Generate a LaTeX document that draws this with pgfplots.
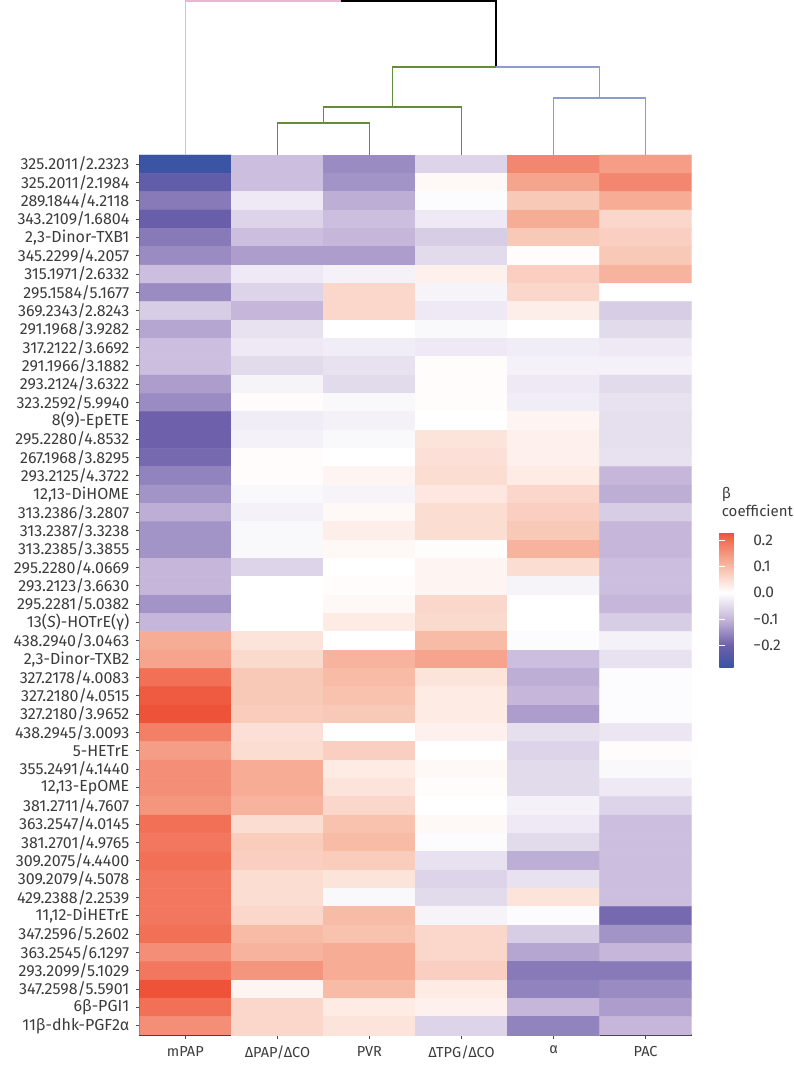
\documentclass[border=0pt]{standalone}
\usepackage{fontspec}
\setmainfont{Fira Sans}
\usepackage{pgfplots}
\pgfplotsset{compat=1.18}

\definecolor{dgreen}{RGB}{100,140,60}
\definecolor{dblue}{RGB}{140,157,203}
\definecolor{dpink}{RGB}{236,182,210}
\definecolor{labcol}{RGB}{60,60,60}

% beta coefficients: columns mPAP, dPAP/dCO, PVR, dTPG/dCO, alpha, PAC ; y = row (0 = top)
\pgfplotstableread[row sep=\\]{
x y z\\
0 0 -0.28\\ 1 0 -0.09\\ 2 0 -0.15\\ 3 0 -0.06\\ 4 0 0.17\\ 5 0 0.14\\
0 1 -0.22\\ 1 1 -0.09\\ 2 1 -0.14\\ 3 1 0.01\\ 4 1 0.13\\ 5 1 0.17\\
0 2 -0.17\\ 1 2 -0.03\\ 2 2 -0.11\\ 3 2 -0.005\\ 4 2 0.08\\ 5 2 0.12\\
0 3 -0.21\\ 1 3 -0.06\\ 2 3 -0.09\\ 3 3 -0.03\\ 4 3 0.12\\ 5 3 0.06\\
0 4 -0.17\\ 1 4 -0.09\\ 2 4 -0.10\\ 3 4 -0.07\\ 4 4 0.08\\ 5 4 0.07\\
0 5 -0.15\\ 1 5 -0.13\\ 2 5 -0.13\\ 3 5 -0.05\\ 4 5 0.005\\ 5 5 0.08\\
0 6 -0.09\\ 1 6 -0.03\\ 2 6 -0.02\\ 3 6 0.02\\ 4 6 0.07\\ 5 6 0.11\\
0 7 -0.15\\ 1 7 -0.06\\ 2 7 0.06\\ 3 7 -0.015\\ 4 7 0.06\\ 5 7 0.0\\
0 8 -0.07\\ 1 8 -0.10\\ 2 8 0.06\\ 3 8 -0.03\\ 4 8 0.025\\ 5 8 -0.07\\
0 9 -0.12\\ 1 9 -0.04\\ 2 9 0.0\\ 3 9 -0.01\\ 4 9 0.0\\ 5 9 -0.05\\
0 10 -0.09\\ 1 10 -0.03\\ 2 10 -0.025\\ 3 10 -0.03\\ 4 10 -0.025\\ 5 10 -0.03\\
0 11 -0.09\\ 1 11 -0.05\\ 2 11 -0.04\\ 3 11 0.003\\ 4 11 -0.02\\ 5 11 -0.02\\
0 12 -0.13\\ 1 12 -0.015\\ 2 12 -0.05\\ 3 12 0.005\\ 4 12 -0.03\\ 5 12 -0.05\\
0 13 -0.15\\ 1 13 0.005\\ 2 13 -0.01\\ 3 13 0.003\\ 4 13 -0.025\\ 5 13 -0.04\\
0 14 -0.20\\ 1 14 -0.025\\ 2 14 -0.02\\ 3 14 0.0\\ 4 14 0.015\\ 5 14 -0.045\\
0 15 -0.20\\ 1 15 -0.02\\ 2 15 -0.01\\ 3 15 0.04\\ 4 15 0.02\\ 5 15 -0.045\\
0 16 -0.19\\ 1 16 0.005\\ 2 16 0.0\\ 3 16 0.045\\ 4 16 0.02\\ 5 16 -0.04\\
0 17 -0.16\\ 1 17 0.005\\ 2 17 0.015\\ 3 17 0.05\\ 4 17 0.03\\ 5 17 -0.10\\
0 18 -0.14\\ 1 18 -0.01\\ 2 18 -0.015\\ 3 18 0.035\\ 4 18 0.06\\ 5 18 -0.11\\
0 19 -0.11\\ 1 19 -0.02\\ 2 19 0.01\\ 3 19 0.05\\ 4 19 0.07\\ 5 19 -0.07\\
0 20 -0.14\\ 1 20 -0.01\\ 2 20 0.025\\ 3 20 0.05\\ 4 20 0.08\\ 5 20 -0.10\\
0 21 -0.14\\ 1 21 -0.01\\ 2 21 0.01\\ 3 21 0.003\\ 4 21 0.11\\ 5 21 -0.10\\
0 22 -0.10\\ 1 22 -0.06\\ 2 22 0.0\\ 3 22 0.015\\ 4 22 0.05\\ 5 22 -0.09\\
0 23 -0.10\\ 1 23 0.0\\ 2 23 0.005\\ 3 23 0.015\\ 4 23 -0.015\\ 5 23 -0.09\\
0 24 -0.14\\ 1 24 0.0\\ 2 24 0.01\\ 3 24 0.06\\ 4 24 0.0\\ 5 24 -0.10\\
0 25 -0.10\\ 1 25 0.0\\ 2 25 0.03\\ 3 25 0.055\\ 4 25 0.0\\ 5 25 -0.07\\
0 26 0.12\\ 1 26 0.04\\ 2 26 0.0\\ 3 26 0.10\\ 4 26 -0.005\\ 5 26 -0.02\\
0 27 0.13\\ 1 27 0.055\\ 2 27 0.11\\ 3 27 0.13\\ 4 27 -0.09\\ 5 27 -0.04\\
0 28 0.20\\ 1 28 0.08\\ 2 28 0.10\\ 3 28 0.04\\ 4 28 -0.11\\ 5 28 -0.005\\
0 29 0.22\\ 1 29 0.08\\ 2 29 0.09\\ 3 29 0.03\\ 4 29 -0.10\\ 5 29 -0.005\\
0 30 0.23\\ 1 30 0.075\\ 2 30 0.08\\ 3 30 0.03\\ 4 30 -0.13\\ 5 30 -0.005\\
0 31 0.18\\ 1 31 0.045\\ 2 31 0.0\\ 3 31 0.02\\ 4 31 -0.045\\ 5 31 -0.035\\
0 32 0.14\\ 1 32 0.05\\ 2 32 0.07\\ 3 32 0.0\\ 4 32 -0.06\\ 5 32 0.005\\
0 33 0.16\\ 1 33 0.12\\ 2 33 0.03\\ 3 33 0.01\\ 4 33 -0.05\\ 5 33 -0.01\\
0 34 0.16\\ 1 34 0.12\\ 2 34 0.04\\ 3 34 0.005\\ 4 34 -0.05\\ 5 34 -0.03\\
0 35 0.15\\ 1 35 0.11\\ 2 35 0.06\\ 3 35 0.0\\ 4 35 -0.02\\ 5 35 -0.06\\
0 36 0.20\\ 1 36 0.05\\ 2 36 0.09\\ 3 36 0.01\\ 4 36 -0.03\\ 5 36 -0.09\\
0 37 0.19\\ 1 37 0.075\\ 2 37 0.10\\ 3 37 -0.005\\ 4 37 -0.05\\ 5 37 -0.09\\
0 38 0.20\\ 1 38 0.07\\ 2 38 0.075\\ 3 38 -0.04\\ 4 38 -0.11\\ 5 38 -0.09\\
0 39 0.19\\ 1 39 0.05\\ 2 39 0.04\\ 3 39 -0.06\\ 4 39 -0.04\\ 5 39 -0.09\\
0 40 0.19\\ 1 40 0.05\\ 2 40 -0.01\\ 3 40 -0.05\\ 4 40 0.04\\ 5 40 -0.09\\
0 41 0.19\\ 1 41 0.06\\ 2 41 0.10\\ 3 41 -0.015\\ 4 41 -0.005\\ 5 41 -0.19\\
0 42 0.20\\ 1 42 0.10\\ 2 42 0.09\\ 3 42 0.06\\ 4 42 -0.07\\ 5 42 -0.14\\
0 43 0.16\\ 1 43 0.11\\ 2 43 0.12\\ 3 43 0.06\\ 4 43 -0.12\\ 5 43 -0.10\\
0 44 0.19\\ 1 44 0.15\\ 2 44 0.12\\ 3 44 0.07\\ 4 44 -0.17\\ 5 44 -0.17\\
0 45 0.23\\ 1 45 0.015\\ 2 45 0.10\\ 3 45 0.03\\ 4 45 -0.16\\ 5 45 -0.15\\
0 46 0.20\\ 1 46 0.06\\ 2 46 0.03\\ 3 46 0.02\\ 4 46 -0.10\\ 5 46 -0.13\\
0 47 0.16\\ 1 47 0.06\\ 2 47 0.04\\ 3 47 -0.06\\ 4 47 -0.16\\ 5 47 -0.10\\
}\betatab

\pgfplotsset{
  colormap={beta}{
    rgb255(0cm)=(56,83,164);
    rgb255(0.86cm)=(110,96,171);
    rgb255(1.86cm)=(198,183,218);
    rgb255(2.86cm)=(255,255,255);
    rgb255(3.86cm)=(248,187,166);
    rgb255(4.86cm)=(241,112,86);
    rgb255(5.15cm)=(238,82,56)
  },
}

\begin{document}
\begin{tikzpicture}[x=1pt,y=1pt]
\path[use as bounding box] (0,0) rectangle (794,1067);

% heatmap
\begin{axis}[
  at={(139.3pt,32pt)}, anchor=south west,
  scale only axis, width=552.4pt, height=880pt,
  xmin=-0.5, xmax=5.5, ymin=-0.5, ymax=47.5,
  y dir=reverse,
  axis x line*=bottom, axis y line*=left,
  axis line style={line width=1.2pt, black!85},
  tick style={line width=0.9pt, black!70},
  major tick length=3.5pt, tick align=outside,
  xtick={0,...,5}, ytick={0,...,47},
  xticklabels={mPAP,ΔPAP/ΔCO,PVR,ΔTPG/ΔCO,α,PAC},
  yticklabels={325.2011/2.2323,325.2011/2.1984,289.1844/4.2118,343.2109/1.6804,
    {2,3-Dinor-TXB1},345.2299/4.2057,315.1971/2.6332,295.1584/5.1677,369.2343/2.8243,
    291.1968/3.9282,317.2122/3.6692,291.1966/3.1882,293.2124/3.6322,323.2592/5.9940,
    8(9)-EpETE,295.2280/4.8532,267.1968/3.8295,293.2125/4.3722,{12,13-DiHOME},
    313.2386/3.2807,313.2387/3.3238,313.2385/3.3855,295.2280/4.0669,293.2123/3.6630,
    295.2281/5.0382,13(\textit{S})-HOTrE(γ),438.2940/3.0463,{2,3-Dinor-TXB2},
    327.2178/4.0083,327.2180/4.0515,327.2180/3.9652,438.2945/3.0093,5-HETrE,
    355.2491/4.1440,{12,13-EpOME},381.2711/4.7607,363.2547/4.0145,381.2701/4.9765,
    309.2075/4.4400,309.2079/4.5078,429.2388/2.2539,{11,12-DiHETrE},347.2596/5.2602,
    363.2545/6.1297,293.2099/5.1029,347.2598/5.5901,6β-PGI1,11β-dhk-PGF2α},
  yticklabel style={font=\fontsize{16}{18}\selectfont, text=labcol, xshift=-3pt},
  xticklabel style={font=\fontsize{14.5}{17}\selectfont, text=labcol, yshift=-4pt},
  colormap name=beta,
  point meta min=-0.286, point meta max=0.229,
  colorbar,
  colorbar style={
    at={(1.05,0.4174)}, anchor=south west,
    scale only axis, width=29.4pt, height=135pt,
    axis line style={draw=none},
    ytick={-0.2,-0.1,0,0.1,0.2},
    yticklabels={−0.2,−0.1,0.0,0.1,0.2},
    yticklabel pos=right, ytick pos=both,
    tick align=inside, major tick length=6pt,
    ytick style={draw=white, line width=0.6pt},
    yticklabel style={font=\fontsize{15.5}{17}\selectfont, text=labcol, xshift=1pt},
    title={β\\coefficient},
    title style={at={(0,1)}, anchor=south west, align=left, xshift=-1pt, yshift=6pt,
      font=\fontsize{15}{18}\selectfont, text=labcol},
  },
]
\addplot[matrix plot*, mesh/cols=6, point meta=explicit]
  table[x=x, y=y, meta=z] {\betatab};
\end{axis}

% column dendrogram
\begin{axis}[
  at={(139.3pt,912pt)}, anchor=south west,
  scale only axis, width=552.4pt, height=154pt,
  xmin=-0.5, xmax=5.5, ymin=0, ymax=154,
  hide axis, clip=false,
  every axis plot/.append style={line width=1.3pt, mark=none},
]
\addplot[color=dpink] coordinates {(0,0) (0,154) (1.6875,154)};
\addplot[color=black] coordinates {(1.6875,154) (3.375,154) (3.375,88)};
\addplot[color=dgreen] coordinates {(3.375,88) (2.25,88) (2.25,48)};
\addplot[color=dgreen] coordinates {(1.5,48) (3,48) (3,0)};
\addplot[color=dgreen] coordinates {(1.5,48) (1.5,32)};
\addplot[color=dgreen] coordinates {(1,0) (1,32) (2,32) (2,0)};
\addplot[color=dblue] coordinates {(3.375,88) (4.5,88) (4.5,57)};
\addplot[color=dblue] coordinates {(4,0) (4,57) (5,57) (5,0)};
\end{axis}
\end{tikzpicture}
\end{document}
